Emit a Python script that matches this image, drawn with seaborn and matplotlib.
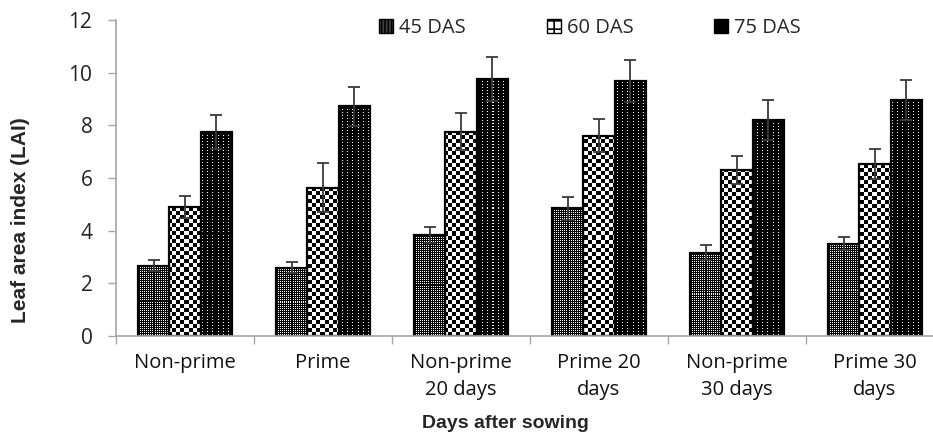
import numpy as np
import pandas as pd
import matplotlib
matplotlib.use("Agg")
import matplotlib.pyplot as plt
from matplotlib.patches import Patch
from matplotlib import font_manager
import seaborn as sns

# Leaf area index per seed treatment at three sampling dates
treatments = ["Non-prime", "Prime", "Non-prime\n20 days", "Prime 20\ndays",
              "Non-prime\n30 days", "Prime 30\ndays"]
stages = ["45 DAS", "60 DAS", "75 DAS"]
lai_45 = [2.67, 2.59, 3.84, 4.85, 3.16, 3.51]
lai_60 = [4.91, 5.63, 7.76, 7.61, 6.30, 6.52]
lai_75 = [7.75, 8.73, 9.76, 9.68, 8.21, 8.97]
err_45 = [0.20, 0.21, 0.31, 0.44, 0.28, 0.26]
err_60 = [0.42, 0.93, 0.70, 0.62, 0.52, 0.57]
err_75 = [0.63, 0.74, 0.85, 0.80, 0.76, 0.76]
yticks = [0, 2, 4, 6, 8, 10, 12]

values = [lai_45, lai_60, lai_75]
errors = [err_45, err_60, err_75]

df = pd.DataFrame({
    "Treatment": np.repeat([treatments], 3, axis=0).ravel(),
    "Stage": np.repeat(stages, len(treatments)),
    "LAI": np.concatenate(values),
})

sns.set_style("ticks")
plt.rcParams["font.family"] = ["Open Sans", "DejaVu Sans"]


def pick_font(names):
    for n in names:
        try:
            font_manager.findfont(n, fallback_to_default=False)
            return n
        except Exception:
            continue
    return "DejaVu Sans"


bold_font = pick_font(["Liberation Sans Narrow", "Liberation Sans"])

W, H = 933, 434
fig = plt.figure(figsize=(W / 100, H / 100), dpi=100)
ax = fig.add_axes([116 / W, 1 - 336 / H, (944 - 116) / W, 316 / H])

sns.barplot(data=df, x="Treatment", y="LAI", hue="Stage", order=treatments,
            hue_order=stages, palette=["white"] * 3, width=0.68, gap=0,
            errorbar=None, legend=False, ax=ax)

ax.set_xlim(-0.5, 5.5)
ax.set_ylim(0, 12)


def texture(kind, h, w, i0, j0):
    """Pixel fill pattern for each sampling date (1 = white, 0 = black)."""
    ii, jj = np.indices((h, w))
    ii = ii + i0
    jj = jj + j0
    if kind == 0:
        white = (jj % 2 == 0) & (ii % 2 == 0)
    elif kind == 1:
        white = ((ii // 4 + jj // 4) % 2) == 0
    else:
        white = (ii % 3 == 1) & (jj % 5 == 2)
    return white.astype(float)


centers = []
for k, cont in enumerate(ax.containers):
    cx = []
    for patch in cont.patches:
        patch.set_facecolor("none")
        patch.set_edgecolor("black")
        patch.set_linewidth(1.6)
        patch.set_zorder(2)
        x0 = patch.get_x()
        x1 = x0 + patch.get_width()
        top = patch.get_height()
        cx.append(x0 + patch.get_width() / 2)
        (px0, py0), (px1, py1) = ax.transData.transform([[x0, 0], [x1, top]])
        w = max(int(round(px1 - px0)), 1)
        h = max(int(round(py1 - py0)), 1)
        arr = texture(k, h, w, int(round(H - py1)), int(round(px0)))
        im = ax.imshow(arr, extent=(x0, x1, 0, top), origin="upper",
                       cmap="gray", vmin=0, vmax=1, interpolation="nearest",
                       aspect="auto", zorder=1.5)
        im.set_clip_path(patch)
    centers.append(cx)

for cx, v, e in zip(centers, values, errors):
    ax.errorbar(cx, v, yerr=e, fmt="none", ecolor="#3a3a3a", elinewidth=1.3,
                capsize=4.5, capthick=1.3, zorder=3)

ax.set_xlim(-0.5, 5.5)
ax.set_ylim(0, 12)
ax.set_yticks(yticks)
ax.set_yticklabels([str(t) for t in yticks])

grey = "#a6a6a6"
for side in ["top", "right"]:
    ax.spines[side].set_visible(False)
for side in ["left", "bottom"]:
    ax.spines[side].set_color(grey)
    ax.spines[side].set_linewidth(1.2)

ax.set_xticks(range(len(treatments)))
ax.set_xticklabels(treatments, linespacing=1.5)
ax.set_xticks(np.arange(-0.5, len(treatments), 1.0), minor=True)
ax.tick_params(axis="x", which="major", length=0, pad=12, labelsize=14.5,
               colors="#111111")
ax.tick_params(axis="x", which="minor", length=6, width=1.0, color=grey,
               direction="out")
ax.tick_params(axis="y", length=6, width=1.0, color=grey, direction="out",
               pad=11, labelsize=15, labelcolor="#222222")

ax.set_xlabel("")
ax.set_ylabel("")
fig.text(505 / W, 1 - 424 / H, "Days after sowing", ha="center", va="center",
         fontsize=14, fontweight="bold", family=bold_font)
fig.text(21 / W, 1 - 220 / H, "Leaf area index (LAI)", ha="center",
         va="center", rotation=90, fontsize=15, fontweight="bold",
         family="Liberation Sans")

plt.rcParams["hatch.linewidth"] = 1.2
handles = [
    Patch(facecolor="#444444", edgecolor="black", hatch="|||||", label=stages[0]),
    Patch(facecolor="white", edgecolor="black", hatch="++", label=stages[1]),
    Patch(facecolor="black", edgecolor="black", label=stages[2]),
]
fig.legend(handles=handles, loc="center", bbox_to_anchor=(590 / W, 1 - 28 / H),
           ncol=3, frameon=False, fontsize=14.5, handlelength=0.7,
           handleheight=0.7, handletextpad=0.3, columnspacing=4.0)

fig.savefig("out.png", dpi=100)
